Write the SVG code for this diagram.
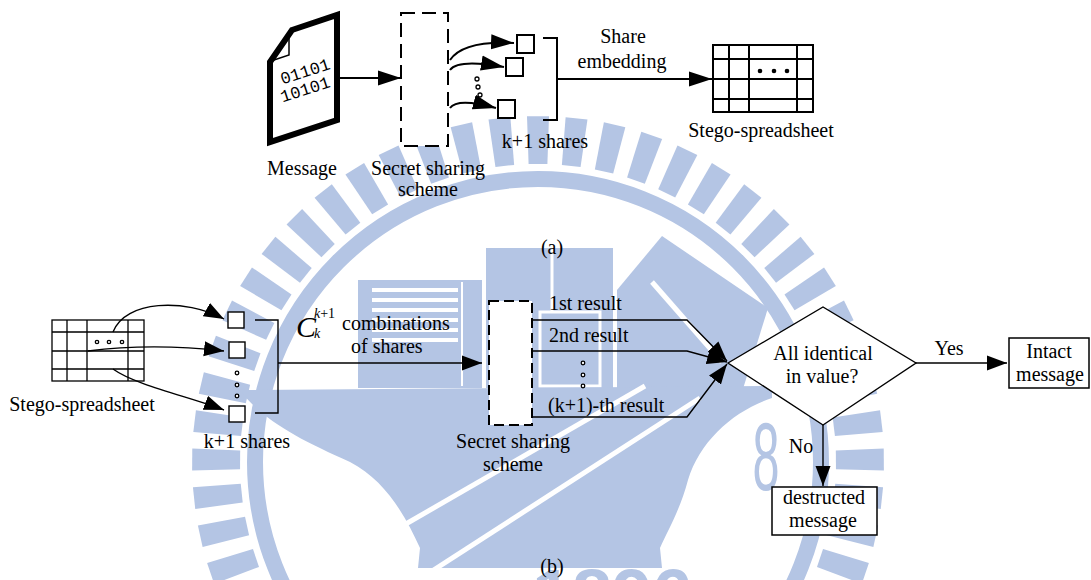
<svg xmlns="http://www.w3.org/2000/svg" xmlns:xlink="http://www.w3.org/1999/xlink" width="1091" height="580" viewBox="0 0 1091 580">
  <style>
    text { font-family: "Liberation Serif", "Times New Roman", serif; font-size: 20px; fill: #000; }
    .mid { text-anchor: middle; }
    .bits { font-family: "Liberation Mono", "DejaVu Sans Mono", monospace; font-size: 17px; text-anchor: middle; }
    .wm { fill: #b4c5e4; }
    .wmline { fill: none; stroke: #b4c5e4; }
    .gap { fill: none; stroke: #fff; }
    .ln { fill: none; stroke: #000; stroke-width: 1.4; }
    .lnA { fill: none; stroke: #000; stroke-width: 2; }
    .box { fill: #fff; stroke: #000; stroke-width: 1.5; }
    .sq { fill: #fff; stroke: #000; stroke-width: 2; }
    .sqB { fill: #fff; stroke: #000; stroke-width: 1.4; }
    .dashA { fill: #fff; stroke: #000; stroke-width: 2; stroke-dasharray: 14 7; }
    .dashB { fill: #fff; stroke: #000; stroke-width: 2; stroke-dasharray: 10 5; }
    .grid { fill: none; stroke: #000; stroke-width: 2; }
    .gridB { fill: none; stroke: #000; stroke-width: 1.3; }
    .dot { fill: #fff; stroke: #000; stroke-width: 1.3; }
  </style>
  <defs>
    <marker id="headA" markerUnits="userSpaceOnUse" markerWidth="23" markerHeight="16" viewBox="0 0 23 16" refX="23" refY="8" orient="auto">
      <path d="M0,0.5 L23,8 L0,15.5 Z" fill="#000"/>
    </marker>
    <marker id="headB" markerUnits="userSpaceOnUse" markerWidth="20" markerHeight="16" viewBox="0 0 20 16" refX="20" refY="8" orient="auto">
      <path d="M0,0.5 L20,8 L0,15.5 Z" fill="#000"/>
    </marker>
    <!-- one radial bar of the seal ring, pointing up from the ring centre -->
    <path id="bar" class="wm" d="M-9.4,-297.9 L9.4,-297.9 L11,-345.8 L-11,-345.8 Z"/>
  </defs>

  <rect width="1091" height="580" fill="#fff"/>

  <!-- background seal -->
  <g id="watermark">
    <g transform="translate(538 462)">
      <circle r="283" class="wmline" stroke-width="16"/>
      <use href="#bar" transform="rotate(-128)"/>
      <use href="#bar" transform="rotate(-121.6)"/>
      <use href="#bar" transform="rotate(-115.2)"/>
      <use href="#bar" transform="rotate(-108.8)"/>
      <use href="#bar" transform="rotate(-102.4)"/>
      <use href="#bar" transform="rotate(-96)"/>
      <use href="#bar" transform="rotate(-89.6)"/>
      <use href="#bar" transform="rotate(-83.2)"/>
      <use href="#bar" transform="rotate(-76.8)"/>
      <use href="#bar" transform="rotate(-70.4)"/>
      <use href="#bar" transform="rotate(-64)"/>
      <use href="#bar" transform="rotate(-57.6)"/>
      <use href="#bar" transform="rotate(-51.2)"/>
      <use href="#bar" transform="rotate(-44.8)"/>
      <use href="#bar" transform="rotate(-38.4)"/>
      <use href="#bar" transform="rotate(-32)"/>
      <use href="#bar" transform="rotate(-25.6)"/>
      <use href="#bar" transform="rotate(-19.2)"/>
      <use href="#bar" transform="rotate(-12.8)"/>
      <use href="#bar" transform="rotate(-6.4)"/>
      <use href="#bar"/>
      <use href="#bar" transform="rotate(6.4)"/>
      <use href="#bar" transform="rotate(12.8)"/>
      <use href="#bar" transform="rotate(19.2)"/>
      <use href="#bar" transform="rotate(25.6)"/>
      <use href="#bar" transform="rotate(32)"/>
      <use href="#bar" transform="rotate(38.4)"/>
      <use href="#bar" transform="rotate(44.8)"/>
      <use href="#bar" transform="rotate(51.2)"/>
      <use href="#bar" transform="rotate(57.6)"/>
      <use href="#bar" transform="rotate(64)"/>
      <use href="#bar" transform="rotate(70.4)"/>
      <use href="#bar" transform="rotate(76.8)"/>
      <use href="#bar" transform="rotate(83.2)"/>
      <use href="#bar" transform="rotate(89.6)"/>
      <use href="#bar" transform="rotate(96)"/>
      <use href="#bar" transform="rotate(102.4)"/>
      <use href="#bar" transform="rotate(108.8)"/>
      <use href="#bar" transform="rotate(115.2)"/>
      <use href="#bar" transform="rotate(121.6)"/>
      <use href="#bar" transform="rotate(128)"/>
    </g>
    <!-- striped hall -->
    <rect class="wm" x="358" y="280" width="124" height="108"/>
    <g fill="#fff">
      <rect x="372" y="288" width="86" height="4"/>
      <rect x="372" y="298" width="86" height="4"/>
      <rect x="372" y="308" width="86" height="4"/>
      <rect x="372" y="318" width="86" height="4"/>
      <rect x="372" y="328" width="86" height="4"/>
      <rect x="372" y="338" width="86" height="4"/>
    </g>
    <line class="gap" x1="462" y1="282" x2="462" y2="386" stroke-width="2"/>
    <!-- tower -->
    <rect class="wm" x="486" y="248" width="127" height="140"/>
    <line class="gap" x1="552" y1="248" x2="552" y2="312" stroke-width="3"/>
    <rect class="gap" x="540" y="312" width="60" height="74" stroke-width="3"/>
    <!-- compass -->
    <polygon class="wm" points="662,236 768,308 742,392 617,392 617,290"/>
    <line class="gap" x1="652" y1="282" x2="722" y2="362" stroke-width="5"/>
    <!-- anvil -->
    <path class="wm" d="M240,390 L772,386 L772,398 C735,410 700,440 688,480 C680,510 668,530 660,548 L662,568 L418,568 L420,548 C405,515 385,480 350,462 C300,440 262,420 240,390 Z"/>
    <line class="gap" x1="385" y1="536" x2="645" y2="386" stroke-width="5"/>
    <line class="gap" x1="415" y1="582" x2="700" y2="398" stroke-width="5"/>
    <text class="wm mid" x="612" y="620" style="font-family: 'Liberation Sans', Arial, sans-serif; font-size: 72px; font-weight: bold; fill: #b4c5e4;">1896</text>
    <text class="wm mid" transform="translate(766 490) scale(0.5 1)" x="0" y="0" style="font-family: 'Liberation Sans', Arial, sans-serif; font-size: 97px; fill: #b4c5e4;">8</text>
  </g>

  <!-- (a) embedding -->
  <g id="connectors-a">
    <line class="lnA" x1="340" y1="78" x2="401" y2="78" marker-end="url(#headA)"/>
    <path class="lnA" d="M450,60 C458,48 476,41 514,43" marker-end="url(#headA)"/>
    <path class="lnA" d="M450,70 C455,63 470,61 504,67" marker-end="url(#headA)"/>
    <path class="lnA" d="M450,108 C455,101 470,101 496,108" marker-end="url(#headA)"/>
    <path class="lnA" d="M543,38 H557 V120 H543"/>
    <line class="lnA" x1="557" y1="79" x2="712" y2="79" marker-end="url(#headA)"/>
  </g>

  <g id="message">
    <polygon points="292,30 337,15 337,120 270,142 270,62" fill="#fff" stroke="#000" stroke-width="6" stroke-linejoin="miter"/>
    <path d="M271,61 L289,55 L289,33" fill="none" stroke="#000" stroke-width="1.5"/>
    <text class="bits" x="305" y="77" transform="rotate(-18 305 71)">01101</text>
    <text class="bits" x="305" y="95" transform="rotate(-18 305 89)">10101</text>
    <text class="mid" x="302" y="175">Message</text>
  </g>

  <g id="sharing-a">
    <rect class="dashA" x="401" y="13" width="47" height="133"/>
    <text class="mid" x="428" y="175">Secret sharing</text>
    <text class="mid" x="428" y="196">scheme</text>
  </g>

  <g id="shares-a">
    <rect class="sq" x="517" y="35" width="17" height="18"/>
    <rect class="sq" x="506" y="58" width="17" height="18"/>
    <rect class="sq" x="498" y="100" width="17" height="18"/>
    <circle class="dot" cx="477" cy="79" r="2"/>
    <circle class="dot" cx="478" cy="87" r="2"/>
    <circle class="dot" cx="480" cy="95" r="2"/>
    <text class="mid" x="545" y="148">k+1 shares</text>
  </g>

  <g id="embed-label">
    <text class="mid" x="623" y="43">Share</text>
    <text class="mid" x="622" y="68">embedding</text>
  </g>

  <g id="stego-a">
    <rect class="grid" x="713" y="45" width="100" height="67"/>
    <path class="grid" d="M729,45 V112 M749,45 V112 M797,45 V112 M713,59 H813 M713,79 H813 M713,99 H813"/>
    <circle cx="760" cy="71" r="2.3"/>
    <circle cx="774" cy="71" r="2.3"/>
    <circle cx="787" cy="71" r="2.3"/>
    <text class="mid" x="761" y="137">Stego-spreadsheet</text>
  </g>

  <text id="caption-a" class="mid" x="552" y="254">(a)</text>

  <!-- (b) verification -->
  <g id="connectors-b">
    <path class="ln" d="M113,332 C125,300 185,298 224,319" marker-end="url(#headB)"/>
    <path class="ln" d="M88,351 C135,345 180,346 224,351" marker-end="url(#headB)"/>
    <path class="ln" d="M113,369 C135,385 190,397 224,410" marker-end="url(#headB)"/>
    <path class="ln" d="M255,320 H278 V413 H255"/>
    <line class="ln" x1="278" y1="363" x2="482" y2="363" marker-end="url(#headB)"/>
    <path class="ln" d="M532,320 H687 L727,361" marker-end="url(#headB)"/>
    <path class="ln" d="M532,351 H687 L727,362" marker-end="url(#headB)"/>
    <path class="ln" d="M532,417 H687 L727,364" marker-end="url(#headB)"/>
    <line class="ln" x1="916" y1="363" x2="1007" y2="363" marker-end="url(#headB)"/>
    <line class="ln" x1="823" y1="425" x2="823" y2="486" marker-end="url(#headB)"/>
  </g>

  <g id="stego-b">
    <rect class="gridB" x="52" y="320" width="92" height="61"/>
    <path class="gridB" d="M67,320 V381 M87,320 V381 M128,320 V381 M52,332 H144 M52,351 H144 M52,369 H144"/>
    <circle class="dot" cx="97" cy="342" r="1.7"/>
    <circle class="dot" cx="109" cy="342" r="1.7"/>
    <circle class="dot" cx="122" cy="342" r="1.7"/>
    <text class="mid" x="82" y="411">Stego-spreadsheet</text>
  </g>

  <g id="shares-b">
    <rect class="sqB" x="228" y="312" width="16" height="16"/>
    <rect class="sqB" x="229" y="342" width="16" height="16"/>
    <rect class="sqB" x="229" y="406" width="16" height="16"/>
    <circle class="dot" cx="237" cy="373" r="1.8"/>
    <circle class="dot" cx="237" cy="385" r="1.8"/>
    <circle class="dot" cx="237" cy="396" r="1.8"/>
    <text class="mid" x="247" y="448">k+1 shares</text>
  </g>

  <g id="combinations-label">
    <text x="296" y="337" style="font-style: italic; font-size: 30px;">C</text>
    <text x="314" y="318" style="font-size: 14px;"><tspan style="font-style: italic;">k</tspan>+1</text>
    <text x="314" y="338" style="font-size: 14px; font-style: italic;">k</text>
    <text x="342" y="330">combinations</text>
    <text x="351" y="353">of shares</text>
  </g>

  <g id="sharing-b">
    <rect class="dashB" x="489" y="301" width="43" height="124"/>
    <text class="mid" x="513" y="448">Secret sharing</text>
    <text class="mid" x="513" y="471">scheme</text>
  </g>

  <g id="results">
    <text x="549" y="310">1st result</text>
    <text x="549" y="342">2nd result</text>
    <circle class="dot" cx="583" cy="363" r="1.8"/>
    <circle class="dot" cx="583" cy="375" r="1.8"/>
    <circle class="dot" cx="583" cy="386" r="1.8"/>
    <text x="548" y="412">(k+1)-th result</text>
  </g>

  <g id="decision">
    <polygon points="728,363 823,307 916,363 823,425" fill="#fff" stroke="#000" stroke-width="1.4"/>
    <text class="mid" x="823" y="360">All identical</text>
    <text class="mid" x="822" y="383">in value?</text>
    <text class="mid" x="949" y="355">Yes</text>
    <text class="mid" x="801" y="453">No</text>
  </g>

  <g id="intact">
    <rect class="box" x="1009" y="338" width="80" height="50"/>
    <text class="mid" x="1049" y="358">Intact</text>
    <text class="mid" x="1050" y="381">message</text>
  </g>

  <g id="destructed">
    <rect class="box" x="772" y="487" width="105" height="48"/>
    <text class="mid" x="824" y="504">destructed</text>
    <text class="mid" x="823" y="527">message</text>
  </g>

  <text id="caption-b" class="mid" x="552" y="573">(b)</text>
</svg>
